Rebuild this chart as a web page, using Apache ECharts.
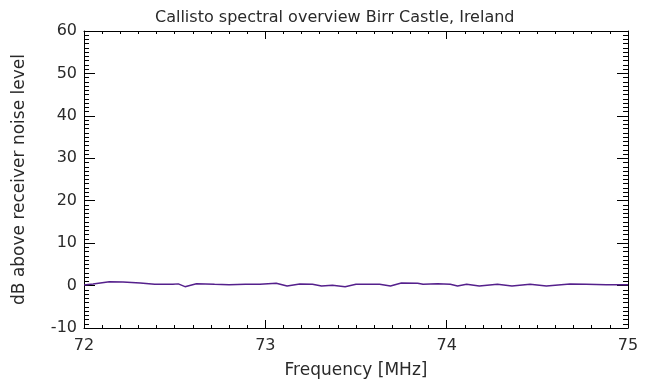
<!DOCTYPE html>
<html>
<head>
<meta charset="utf-8">
<script src="https://cdn.jsdelivr.net/npm/echarts@6/dist/echarts.min.js"></script>
<style>
  html, body { margin: 0; padding: 0; background: #fff; }
  #chart { width: 653px; height: 380px; }
</style>
</head>
<body>
<div id="chart"></div>
<script>
// spectrum: frequency [MHz] and dB above noise
const freqs = [72.0, 72.05, 72.14, 72.215, 72.31, 72.39, 72.49, 72.52, 72.557, 72.62,
  72.72, 72.8, 72.89, 72.97, 73.06, 73.12, 73.19, 73.26, 73.31, 73.37,
  73.44, 73.5, 73.63, 73.69, 73.75, 73.84, 73.87, 73.95, 74.02, 74.06,
  74.11, 74.18, 74.28, 74.36, 74.46, 74.55, 74.68, 74.77, 74.88, 75.0];
const dbValues = [0.15, 0.38, 0.92, 0.87, 0.6, 0.3, 0.3, 0.4, -0.26, 0.45,
  0.3, 0.2, 0.3, 0.3, 0.55, -0.1, 0.38, 0.3, -0.1, 0.07,
  -0.26, 0.3, 0.3, -0.1, 0.6, 0.55, 0.3, 0.45, 0.3, -0.1,
  0.3, -0.1, 0.3, -0.1, 0.3, -0.1, 0.38, 0.3, 0.2, 0.2];
const xTicks = [72, 75, 1];   // min, max, step
const yTicks = [-10, 60, 10];

const font = "DejaVu Sans";
const ink = "#2a2a2a";

const chart = echarts.init(document.getElementById("chart"));

const boxAxis = (extra) => Object.assign({
  type: "value",
  axisLine: { show: true, onZero: false, lineStyle: { color: "#000", width: 1 } },
  splitLine: { show: false },
  minorSplitLine: { show: false },
}, extra);

chart.setOption({
  animation: false,
  title: {
    text: "Callisto spectral overview Birr Castle, Ireland",
    left: 150,
    top: 5,
    textStyle: { fontFamily: font, fontSize: 16, fontWeight: "normal", color: ink },
  },
  grid: { left: 84, right: 25, top: 31, bottom: 52, outerBoundsMode: "none" },
  xAxis: [
    boxAxis({
      position: "bottom",
      min: xTicks[0], max: xTicks[1], interval: xTicks[2],
      axisTick: { inside: true, length: 8, lineStyle: { color: "#000" } },
      minorTick: { show: true, splitNumber: 10, length: 3, lineStyle: { color: "#000" } },
      axisLabel: { margin: 10, fontFamily: font, fontSize: 16, color: ink },
      name: "Frequency [MHz]",
      nameLocation: "middle",
      nameGap: 34,
      nameTextStyle: { fontFamily: font, fontSize: 17, color: ink },
    }),
    boxAxis({
      position: "top",
      min: xTicks[0], max: xTicks[1], interval: xTicks[2],
      axisTick: { inside: true, length: 8, lineStyle: { color: "#000" } },
      minorTick: { show: true, splitNumber: 10, length: 3, lineStyle: { color: "#000" } },
      axisLabel: { show: false },
    }),
  ],
  yAxis: [
    boxAxis({
      position: "left",
      min: yTicks[0], max: yTicks[1], interval: yTicks[2],
      axisTick: { inside: true, length: 11, lineStyle: { color: "#000" } },
      minorTick: { show: true, splitNumber: 10, length: 5, lineStyle: { color: "#000" } },
      axisLabel: { margin: 7, fontFamily: font, fontSize: 16, color: ink },
      name: "dB above receiver noise level",
      nameLocation: "middle",
      nameGap: 56,
      nameTextStyle: { fontFamily: font, fontSize: 17, color: ink },
    }),
    boxAxis({
      position: "right",
      min: yTicks[0], max: yTicks[1], interval: yTicks[2],
      axisTick: { inside: true, length: 11, lineStyle: { color: "#000" } },
      minorTick: { show: true, splitNumber: 10, length: 5, lineStyle: { color: "#000" } },
      axisLabel: { show: false },
    }),
  ],
  series: [{
    type: "line",
    xAxisIndex: 0,
    yAxisIndex: 0,
    data: freqs.map((f, i) => [f, dbValues[i]]),
    showSymbol: false,
    lineStyle: { color: "#55208c", width: 1.5 },
  }],
});
</script>
</body>
</html>
